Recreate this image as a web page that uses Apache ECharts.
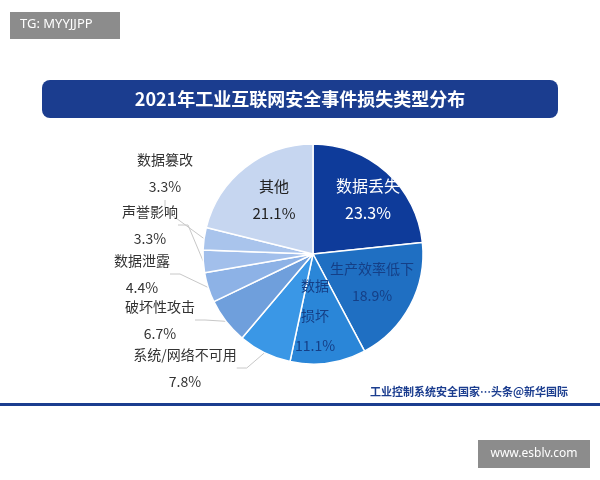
<!DOCTYPE html>
<html>
<head>
<meta charset="utf-8">
<script src="https://cdn.jsdelivr.net/npm/echarts@6/dist/echarts.min.js"></script>
<style>html,body{margin:0;padding:0;background:#fff}#main{width:600px;height:480px}</style>
</head>
<body>
<div id="main"></div>
<script>
var names = ['数据丢失', '生产效率低下', '数据\n损坏', '系统/网络不可用', '破坏性攻击', '数据泄露', '声誉影响', '数据篡改', '其他'];
var values = [23.3, 18.9, 11.1, 7.8, 6.7, 4.4, 3.3, 3.3, 21.1];
var colors = ['#0e3b9a', '#1f6fc2', '#2a86d8', '#3a97e6', '#6f9fdc', '#8db2e6', '#a2bfeb', '#a9c4ec', '#c6d6f0'];
var textColors = ['#fff', '#153f86', '#153f86', '#333', '#333', '#333', '#333', '#333', '#222'];
var fontSizes = [16, 14, 14, 14, 14, 14, 14, 14, 15];
var inside = [true, true, true, false, false, false, false, false, true];
// label positions (centre of text block)
var labelPos = [[368, 199], [372, 282], [315, 316], [185, 368], [160, 320], [142, 274], [150, 225], [165, 173], [274, 200]];

var myChart = echarts.init(document.getElementById('main'));
var data = names.map(function (n, i) {
    return {
        name: n, value: values[i],
        itemStyle: { color: colors[i] },
        label: { color: textColors[i], fontSize: fontSizes[i], lineHeight: i === 2 ? 30 : 27 },
        labelLine: { show: !inside[i] }
    };
});
var option = {
    backgroundColor: '#fff',
    graphic: [
        { type: 'rect', shape: { x: 10, y: 12, width: 110, height: 27 }, style: { fill: '#8c8c8c' } },
        { type: 'text', left: 20, top: 18, style: { text: 'TG: MYYJJPP', fill: '#fff', font: '13px "Noto Sans"' } },
        { type: 'rect', shape: { x: 42, y: 80, width: 516, height: 38, r: 8 }, style: { fill: '#1b3d8f' } },
        { type: 'text', x: 300, y: 99, style: { text: '2021年工业互联网安全事件损失类型分布', fill: '#fff', font: 'bold 18px "Noto Sans CJK SC"', align: 'center', verticalAlign: 'middle' } },
        { type: 'rect', shape: { x: 0, y: 403, width: 600, height: 3 }, style: { fill: '#1b3d8f' } },
        { type: 'text', x: 370, y: 386, style: { text: '工业控制系统安全国家…头条@新华国际', fill: '#1b3d8f', font: 'bold 11px "Noto Sans CJK SC"' } },
        { type: 'rect', shape: { x: 478, y: 440, width: 112, height: 28 }, style: { fill: '#8c8c8c' } },
        { type: 'text', x: 534, y: 454, style: { text: 'www.esblv.com', fill: '#fff', font: '12px "Noto Sans"', align: 'center', verticalAlign: 'middle' } }
    ],
    series: [{
        type: 'pie',
        center: [313, 254],
        radius: 110,
        startAngle: 90,
        clockwise: true,
        data: data,
        itemStyle: { borderColor: '#fff', borderWidth: 1.5 },
        label: {
            formatter: function (p) { return p.name + '\n' + p.value.toFixed(1) + '%'; },
            fontFamily: 'Noto Sans CJK SC',
            align: 'center'
        },
        labelLine: { lineStyle: { color: '#c8c8c8', width: 1 }, length: 10, length2: 10 },
        labelLayout: function (p) {
            var pos = labelPos[p.dataIndex];
            return { x: pos[0], y: pos[1], align: 'center', verticalAlign: 'middle' };
        }
    }]
};
myChart.setOption(option);
</script>
</body>
</html>
